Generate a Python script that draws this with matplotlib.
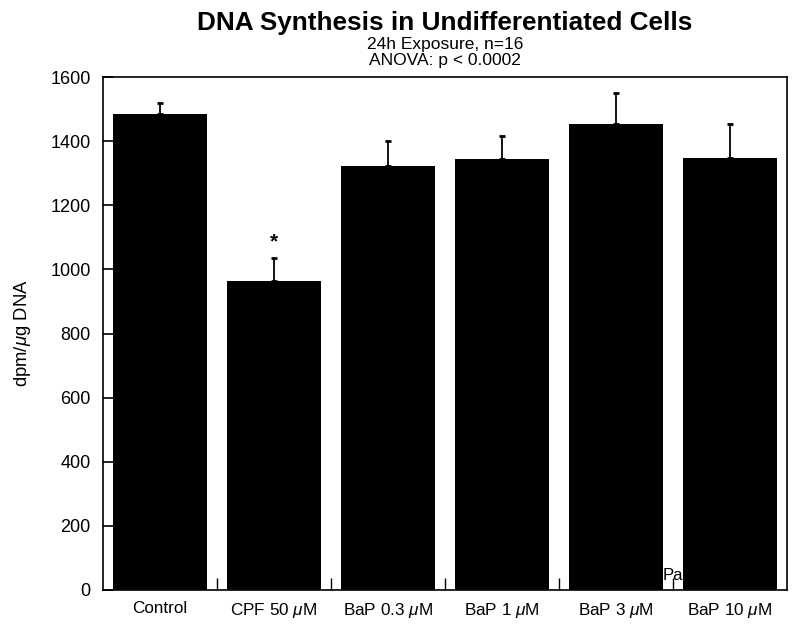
import matplotlib
matplotlib.use("Agg")
import matplotlib.pyplot as plt
import numpy as np

plt.rcParams['font.family'] = ['Liberation Sans', 'DejaVu Sans']
plt.rcParams['mathtext.fontset'] = 'custom'
plt.rcParams['mathtext.it'] = 'Liberation Sans:italic'
plt.rcParams['mathtext.rm'] = 'Liberation Sans'

categories = ["Control", r"CPF 50 $\mu$M", r"BaP 0.3 $\mu$M", r"BaP 1 $\mu$M",
              r"BaP 3 $\mu$M", r"BaP 10 $\mu$M"]
values = [1486, 965, 1323, 1343, 1453, 1346]
err_upper = [33, 70, 77, 73, 96, 106]
yticks = [0, 200, 400, 600, 800, 1000, 1200, 1400, 1600]

fig = plt.figure(figsize=(8, 6.31), dpi=100)
ax = fig.add_axes([103/800, 1-590/631, 684/800, 513/631])

x = np.arange(len(categories))
ax.bar(x, values, width=0.82, color='black', zorder=2)
ax.errorbar(x, values, yerr=[np.zeros(len(values)), err_upper], fmt='none',
            ecolor='black', elinewidth=1.3, capsize=2.5, capthick=2, zorder=3)

ax.set_xlim(-0.5, len(categories) - 0.5)
ax.set_ylim(0, 1600)
ax.set_yticks(yticks)
ax.set_xticks(x)
ax.set_xticklabels(categories, fontsize=12.3)
ax.set_xticks(np.arange(0.5, len(categories) - 0.5, 1.0), minor=True)
ax.tick_params(axis='x', which='major', length=0, pad=8)
ax.tick_params(axis='x', which='minor', direction='in', length=9, width=1)
ax.tick_params(axis='y', direction='in', length=7, width=1.2, labelsize=13, pad=9)
for s in ax.spines.values():
    s.set_linewidth(1.2)

ax.set_ylabel(r"dpm/$\mu$g DNA", fontsize=13.3)
ax.yaxis.set_label_coords(-(103 - 33) / 684, 0.5)

ax.text(1, 1085, "*", ha='center', va='center', fontsize=15, fontweight='bold')
ax.text(4.41, 44, "Pa", ha='left', va='center', fontsize=12, zorder=1)

fig.text(445/800, 1-23/631, "DNA Synthesis in Undifferentiated Cells",
         ha='center', va='center', fontsize=18.8, fontweight='bold')
fig.text(445/800, 1-44/631, "24h Exposure, n=16", ha='center', va='center', fontsize=12.5)
fig.text(445/800, 1-60.5/631, "ANOVA: p < 0.0002", ha='center', va='center', fontsize=12.5)

fig.savefig("out.png", dpi=100)
